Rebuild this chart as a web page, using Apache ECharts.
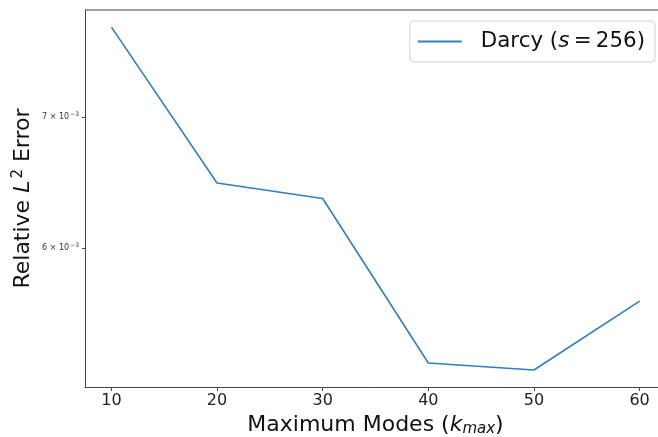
<!DOCTYPE html>
<html>
<head>
<meta charset="utf-8">
<script src="https://cdn.jsdelivr.net/npm/echarts@6/dist/echarts.min.js"></script>
<style>html,body{margin:0;padding:0;background:#fff}#c{width:658px;height:437px}</style>
</head>
<body>
<div id="c"></div>
<script>
const modes = [10, 20, 30, 40, 50, 60];
const errors = [7.778e-3, 6.476e-3, 6.359e-3, 5.241e-3, 5.198e-3, 5.636e-3];
const xTicks = [10, 20, 30, 40, 50, 60];
const yTicks = [6e-3, 7e-3];
const seriesName = 'Darcy (s = 256)';

const FONT = 'DejaVu Sans';
const chart = echarts.init(document.getElementById('c'), null, {renderer: 'canvas'});

function sciLabel(v) {
  const exp = Math.floor(Math.log10(v) + 1e-9);
  const mant = Math.round(v / Math.pow(10, exp));
  return '{a|' + mant + ' × 10}{s|−' + (-exp) + '}';
}

chart.setOption({
  animation: false,
  backgroundColor: '#fff',
  grid: {left: 85, top: 10, bottom: 50, width: 581, outerBoundsMode: 'none', containLabel: false},
  legend: {
    right: 3, top: 21,
    padding: [10, 10, 10, 8],
    itemWidth: 44, itemHeight: 14,
    borderColor: '#d0d0d0', borderWidth: 1, borderRadius: 4,
    backgroundColor: 'rgba(255,255,255,0.8)',
    formatter: function () { return 'Darcy ({i|s}\u2009=\u2009256)'; },
    textStyle: {
      fontFamily: FONT, fontSize: 21.4, color: '#111', padding: [0, 0, 0, 14],
      rich: {i: {fontFamily: FONT, fontSize: 21.4, fontStyle: 'italic', color: '#111'}}
    },
    data: [{name: seriesName, icon: 'path://M0,0L44,0L44,2L0,2Z'}]
  },
  xAxis: {
    type: 'value', min: 7.5, max: 62.5,
    name: 'Maximum Modes ({sub|k}{subi|max})',
    nameLocation: 'middle', nameGap: 27,
    nameTextStyle: {fontFamily: FONT, fontSize: 22, color: '#111',
      rich: {sub: {fontFamily: FONT, fontSize: 22, fontStyle: 'italic', color: '#111'},
             subi: {fontFamily: FONT, fontSize: 15, fontStyle: 'italic', color: '#111', verticalAlign: 'bottom', padding: [8, 0, 0, 0]}}},
    axisLine: {show: true, lineStyle: {color: '#444', width: 1}},
    axisTick: {show: true, length: 4, lineStyle: {color: '#444'}, customValues: xTicks},
    axisLabel: {fontFamily: FONT, fontSize: 16, color: '#222', margin: 6, customValues: xTicks},
    splitLine: {show: false}
  },
  yAxis: {
    type: 'log', logBase: 10, min: 5.095e-3, max: 7.936e-3,
    name: 'Relative {n|L}{sup|2} Error',
    nameLocation: 'middle', nameGap: 49, nameRotate: 90, nameMoveOverlap: false,
    nameTextStyle: {fontFamily: FONT, fontSize: 22, color: '#111',
      rich: {n: {fontFamily: FONT, fontSize: 22, fontStyle: 'italic', color: '#111'},
             sup: {fontFamily: FONT, fontSize: 15, color: '#111', verticalAlign: 'top', padding: [0, 0, 10, 2]}}},
    axisLine: {show: true, lineStyle: {color: '#444', width: 1}},
    axisTick: {show: true, length: 3, lineStyle: {color: '#444'}, customValues: yTicks},
    axisLabel: {
      fontFamily: FONT, fontSize: 8, color: '#333', margin: 6, customValues: yTicks,
      formatter: function (v) { return sciLabel(v); },
      rich: {a: {fontFamily: FONT, fontSize: 8, color: '#333'},
             s: {fontFamily: FONT, fontSize: 6, color: '#333', verticalAlign: 'top', padding: [0, 0, 4, 1]}}
    },
    splitLine: {show: false},
    minorTick: {show: false}
  },
  graphic: [{
    type: 'line', shape: {x1: 85, y1: 10, x2: 658, y2: 10},
    style: {stroke: '#444', lineWidth: 1}, silent: true
  }],
  series: [{
    name: seriesName, type: 'line', symbol: 'none',
    data: modes.map((m, i) => [m, errors[i]]),
    lineStyle: {color: '#2f7fbd', width: 1.6},
    itemStyle: {color: '#2f7fbd'}
  }]
});
</script>
</body>
</html>
